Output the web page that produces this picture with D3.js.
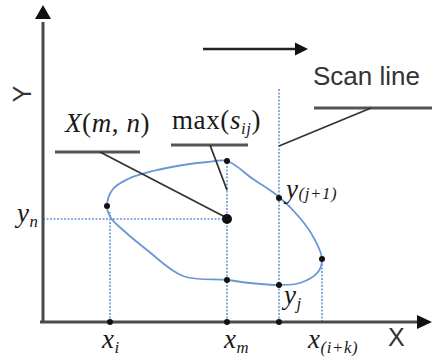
<!DOCTYPE html>
<html>
<head>
<meta charset="utf-8">
<script src="https://cdn.jsdelivr.net/npm/d3@7"></script>
<style>
  body { margin: 0; background: #fff; }
  svg { display: block; }
</style>
</head>
<body>
<div id="chart"></div>
<script>
/* Outline of the region (x, y in diagram units, origin at the axes corner) */
const outlineX = [64, 70, 85, 110, 140, 165, 184, 210, 236, 257, 272, 279, 275, 257, 236, 207, 184, 140, 104, 80, 68];
const outlineY = [116, 133, 143, 151, 157, 160, 161, 143, 125, 104, 82, 63, 50, 39, 37, 39, 42, 46, 72, 92, 104];

/* Marked points */
const pointX = [64, 184, 236, 279, 184, 236, 67, 184, 236];
const pointY = [116, 161, 124, 63, 42, 37, 0, 0, 0];
const centre = [184, 103];

/* Dotted guides: [x1, y1, x2, y2] */
const guides = [
  [67, 0, 67, 110],
  [0, 103, 184, 103],
  [184, 0, 184, 161],
  [236, 0, 236, 234],
  [279, 0, 279, 63]
];

/* Callouts: underline [x1, x2, y], leader from and to */
const callouts = [
  { under: [12, 97, 170], from: [57, 170], to: [184, 104] },
  { under: [128, 205, 177], from: [167, 177], to: [184, 132] },
  { under: [271, 389, 214], from: [328, 214], to: [236, 176] }
];

/* Tick labels: [base, subscript] */
const xTickLabels = [['x', 'i'], ['x', 'm'], ['x', '(i+k)']];
const xTickAt = [59, 181, 265];
const yLabels = [['y', 'n'], ['y', '(j+1)'], ['y', 'j']];

const width = 432, height = 360;
const x = d3.scaleLinear().domain([0, 389]).range([43, 432]);
const y = d3.scaleLinear().domain([0, 317]).range([322, 5]);

const serif = '"Liberation Serif", "Times New Roman", serif';
const sans = '"Liberation Sans", Arial, sans-serif';

const svg = d3.select('#chart').append('svg')
  .attr('width', width).attr('height', height);

const blue = '#6a97d6';
const axisCol = '#4a4a4a';

// dotted guide lines
svg.append('g').selectAll('line')
  .data(guides).enter().append('line')
  .attr('x1', d => x(d[0])).attr('y1', d => y(d[1]))
  .attr('x2', d => x(d[2])).attr('y2', d => y(d[3]))
  .attr('stroke', blue).attr('stroke-width', 1.6)
  .attr('stroke-dasharray', '2,1.5');

// outline
const pts = outlineX.map((d, i) => [d, outlineY[i]]);
const line = d3.line().x(d => x(d[0])).y(d => y(d[1])).curve(d3.curveCatmullRomClosed.alpha(0.5));
svg.append('path').attr('d', line(pts))
  .attr('fill', 'none').attr('stroke', blue).attr('stroke-width', 1.8);

// axes
svg.append('line').attr('x1', x(0)).attr('y1', y(0) + 1).attr('x2', x(0)).attr('y2', y(300))
  .attr('stroke', axisCol).attr('stroke-width', 3);
svg.append('path')
  .attr('d', `M${x(0)},${y(317)} L${x(0) - 8},${y(303)} L${x(0) + 8},${y(303)} Z`)
  .attr('fill', '#111');
svg.append('line').attr('x1', x(-3)).attr('y1', y(0)).attr('x2', x(378)).attr('y2', y(0))
  .attr('stroke', axisCol).attr('stroke-width', 3);
svg.append('path')
  .attr('d', `M${x(389)},${y(0)} L${x(374)},${y(0) - 7} L${x(374)},${y(0) + 7} Z`)
  .attr('fill', '#111');

// scan direction arrow
svg.append('line').attr('x1', x(160)).attr('y1', y(273)).attr('x2', x(256)).attr('y2', y(273))
  .attr('stroke', '#222').attr('stroke-width', 2.5);
svg.append('path')
  .attr('d', `M${x(265)},${y(273)} L${x(252)},${y(273) - 6.5} L${x(252)},${y(273) + 6.5} Z`)
  .attr('fill', '#111');

// callouts
callouts.forEach(c => {
  svg.append('line').attr('x1', x(c.under[0])).attr('x2', x(c.under[1]))
    .attr('y1', y(c.under[2])).attr('y2', y(c.under[2]))
    .attr('stroke', '#555').attr('stroke-width', 3);
  svg.append('line').attr('x1', x(c.from[0])).attr('y1', y(c.from[1]))
    .attr('x2', x(c.to[0])).attr('y2', y(c.to[1]))
    .attr('stroke', '#333').attr('stroke-width', 1.8);
});

// points
svg.append('g').selectAll('circle')
  .data(pointX.map((d, i) => [d, pointY[i]])).enter().append('circle')
  .attr('cx', d => x(d[0])).attr('cy', d => y(d[1])).attr('r', 3)
  .attr('fill', '#111');
svg.append('circle').attr('cx', x(centre[0])).attr('cy', y(centre[1])).attr('r', 5).attr('fill', '#111');

// math labels, italic serif with subscripts
function mathLabel(px, py, parts, size) {
  const t = svg.append('text').attr('x', px).attr('y', py)
    .attr('font-family', serif).attr('font-size', size).attr('fill', '#1a1a1a')
    .attr('letter-spacing', 0.6);
  parts.forEach(p => {
    const s = t.append('tspan').text(p.t);
    if (p.it) s.attr('font-style', 'italic');
    if (p.sub) s.attr('font-size', size * 0.62).attr('dy', p.dy != null ? p.dy : 5);
    if (p.up) s.attr('dy', p.up);
  });
  return t;
}

xTickLabels.forEach((d, i) => {
  mathLabel(x(xTickAt[i]), 348, [{ t: d[0], it: true }, { t: d[1], it: true, sub: true }], 27);
});
mathLabel(17, 222, [{ t: yLabels[0][0], it: true }, { t: yLabels[0][1], it: true, sub: true }], 27);
mathLabel(286, 198, [{ t: yLabels[1][0], it: true }, { t: yLabels[1][1], it: true, sub: true, dy: 1 }], 27);
mathLabel(284, 304, [{ t: yLabels[2][0], it: true }, { t: yLabels[2][1], it: true, sub: true }], 27);

mathLabel(65, 132, [{ t: 'X', it: true }, { t: '(' }, { t: 'm', it: true }, { t: ', ' }, { t: 'n', it: true }, { t: ')' }], 27);
mathLabel(172, 129, [{ t: 'max(' }, { t: 's', it: true }, { t: 'ij', it: true, sub: true }, { t: ')', up: -5 }], 27);

// plain labels
svg.append('text').attr('font-family', sans).attr('x', 313).attr('y', 85)
  .attr('font-size', 26).attr('fill', '#333').text('Scan line');
svg.append('text').attr('font-family', sans).attr('x', 388).attr('y', 346)
  .attr('font-size', 25).attr('fill', '#333').text('X');
svg.append('text').attr('font-family', sans)
  .attr('transform', 'translate(31,94) rotate(-90)')
  .attr('text-anchor', 'middle')
  .attr('font-size', 25).attr('fill', '#333').text('Y');
</script>
</body>
</html>
